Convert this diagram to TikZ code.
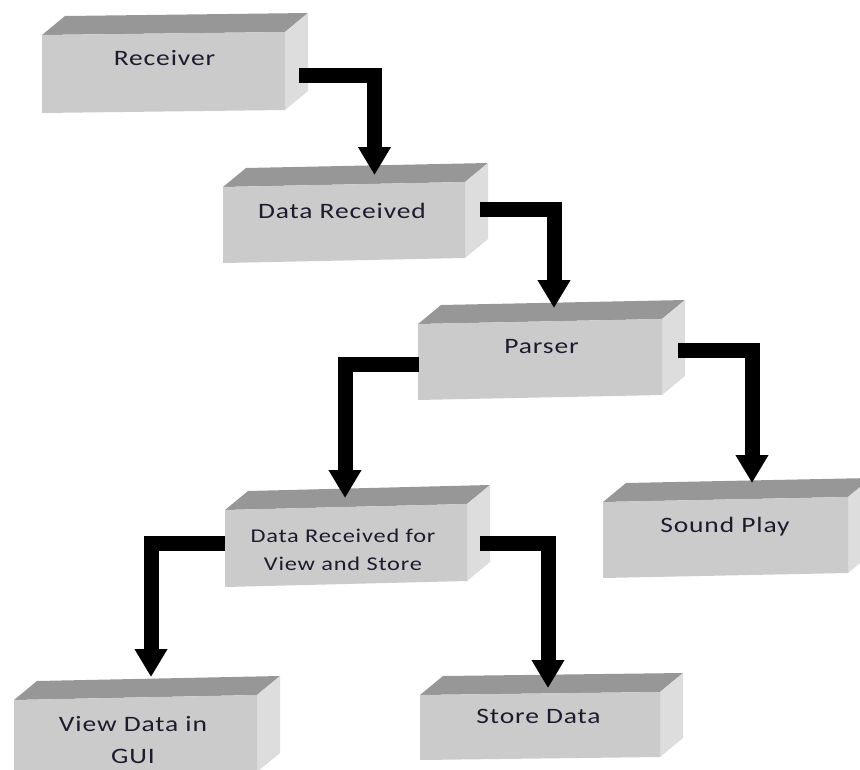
\documentclass[tikz,border=0pt]{standalone}
\usepackage{fontspec}
\setmainfont{Carlito}[FakeStretch=1.25, LetterSpace=4]
\usetikzlibrary{arrows.meta}

\definecolor{boxfront}{HTML}{CBCBCB}
\definecolor{boxtop}{HTML}{979797}
\definecolor{boxside}{HTML}{DDDDDD}
\definecolor{labelink}{HTML}{1C1C2E}

\tikzset{
  topface/.style={fill=boxtop},
  sideface/.style={fill=boxside},
  frontface/.style={fill=boxfront},
  lbl/.style={inner sep=0pt, text=labelink, font=\fontsize{22}{32}\selectfont},
  smalllbl/.style={lbl, font=\fontsize{19.5}{28}\selectfont},
  flow/.style={line width=15pt, line join=miter, draw=black,
    -{Triangle[width=31pt,length=28pt]}},
}

% 3-D block: name, left x, top y, width, height, rise of the right edge
\newcommand{\blockbox}[6]{%
  \coordinate (#1-flt) at (#2,#3);
  \coordinate (#1-frt) at ({#2+#4},{#3-#6});
  \coordinate (#1-frb) at ({#2+#4},{#3+#5-#6});
  \coordinate (#1-flb) at (#2,{#3+#5});
  \fill[topface] (#1-flt) -- (#1-frt) -- ([shift={(23,-19)}]#1-frt)
    -- ([shift={(23,-19)}]#1-flt) -- cycle;
  \fill[sideface] (#1-frt) -- ([shift={(23,-19)}]#1-frt)
    -- ([shift={(23,-19)}]#1-frb) -- (#1-frb) -- cycle;
  \fill[frontface] (#1-flt) -- (#1-frt) -- (#1-frb) -- (#1-flb) -- cycle;
}

\begin{document}
\begin{tikzpicture}[x=1pt, y=-1pt]
  \useasboundingbox (0,0) rectangle (860,769);
  \clip (0,0) rectangle (860,769);

  % blocks
  \blockbox{recv}{42}{35}{243}{78}{3}
  \blockbox{drecv}{223}{187}{242}{76}{5}
  \blockbox{parser}{418}{324}{244}{76}{5}
  \blockbox{drvs}{225}{510}{242}{77}{6}
  \blockbox{sound}{603}{502}{245}{76}{5}
  \blockbox{view}{14}{700}{243}{77}{5}
  \blockbox{store}{420}{695}{240}{65}{3}

  % labels
  \node[lbl, anchor=base] (recv-txt) at (164.5,65) {Receiver};
  \node[lbl, anchor=base] (drecv-txt) at (342,218) {Data Received};
  \node[lbl, anchor=base] (parser-txt) at (541.5,353) {Parser};
  \node[smalllbl, align=center, anchor=center] (drvs-txt) at (343,549.5)
    {Data Received for\\View and Store};
  \node[lbl, anchor=base] (sound-txt) at (725,532) {Sound Play};
  \node[lbl, align=center, anchor=center] (view-txt) at (133,740)
    {View Data in\\GUI};
  \node[lbl, anchor=base] (store-txt) at (538.5,723) {Store Data};

  % connector ends
  \coordinate (recv-out) at (299,75);
  \coordinate (drecv-in) at (374.5,175);
  \coordinate (drecv-out) at (480,209);
  \coordinate (parser-in) at (554,308);
  \coordinate (parser-outl) at (419,364.5);
  \coordinate (drvs-in) at (345,498);
  \coordinate (parser-outr) at (678,350);
  \coordinate (sound-in) at (752,483);
  \coordinate (drvs-outl) at (225,543);
  \coordinate (view-in) at (151,677);
  \coordinate (drvs-outr) at (480,543);
  \coordinate (store-in) at (548,688);

  % connectors
  \draw[flow] (recv-out) -| (drecv-in);
  \draw[flow] (drecv-out) -| (parser-in);
  \draw[flow] (parser-outl) -| (drvs-in);
  \draw[flow] (parser-outr) -| (sound-in);
  \draw[flow] (drvs-outl) -| (view-in);
  \draw[flow] (drvs-outr) -| (store-in);
\end{tikzpicture}
\end{document}
